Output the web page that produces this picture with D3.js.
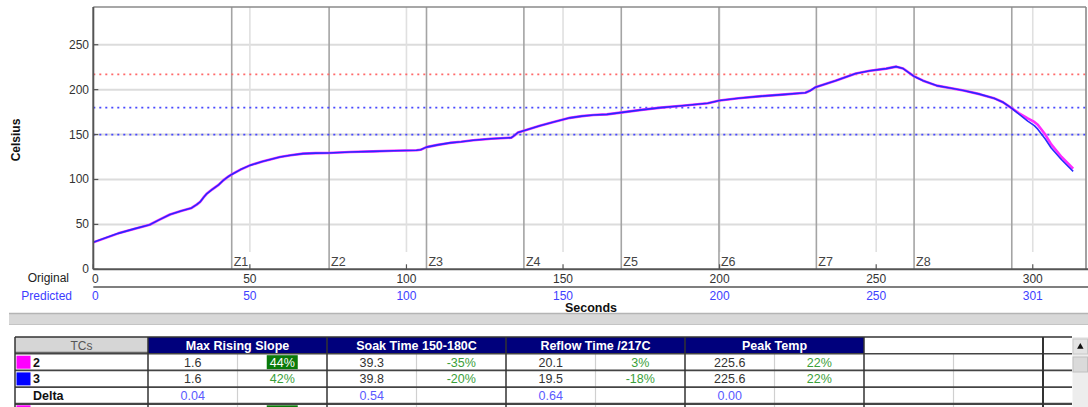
<!DOCTYPE html>
<html>
<head>
<meta charset="utf-8">
<script src="https://cdn.jsdelivr.net/npm/d3@7"></script>
<style>
  body { margin: 0; background: #fff; }
  svg { display: block; font-family: "Liberation Sans", Arial, Helvetica, sans-serif; }
</style>
</head>
<body>
<svg id="chart" width="1088" height="407"></svg>
<script>
// ---- Reflow profile data (seconds, degrees Celsius) ----
const times = [0, 4, 8, 13, 18, 21, 24.5, 28, 31.4, 33, 34.1, 35.2, 36.2, 38, 40, 41.5, 43, 44.2, 47, 50,
  54, 59.6, 63, 67, 71, 75, 82, 89.4, 96, 103.2, 104.5, 106.4, 110, 113.8, 117.5, 121.3, 127, 133.5, 134.5,
  135.6, 139, 142.6, 147, 152.2, 156, 159.7, 164, 168.3, 175, 181.2, 188, 196.2, 200, 206, 213.4, 220, 227.4,
  229, 230.6, 237, 243.5, 248, 253.2, 256.4, 258.6, 262, 265, 269.3, 274, 277.9, 283, 287.6, 290.5, 293,
  295.5, 298.4, 300.5, 301.6, 304, 305.9, 309.2, 312.9];

// TC 2 (original, magenta)
const tc2Temps = [30, 35, 40, 45, 49.6, 55, 61, 65, 68.3, 72, 75, 80, 84, 89, 94, 99, 103, 105.6, 111, 115.7,
  120, 125, 127, 128.8, 129.3, 129.5, 130.5, 131.3, 132, 132.5, 133, 136, 138.5, 140.7, 142, 143.7, 145.3, 146.5, 149,
  152.3, 156, 159.7, 164, 168.6, 170.5, 171.7, 172.5, 174.4, 177.5, 180, 182, 184.9, 188, 190.5, 192.8, 194.5, 196.5,
  199, 202.7, 210, 218, 221, 223.4, 225.6, 223.5, 215, 210, 204.5, 201.5, 199, 195, 190.5, 186, 180,
  174, 168, 164, 161, 150, 139, 125, 112];

// TC 3 (predicted, blue)
const tc3Temps = [30, 35, 40, 45, 49.6, 55, 61, 65, 68.3, 72, 75, 80, 84, 89, 94, 99, 103, 105.6, 111, 115.7,
  120, 125, 127, 128.8, 129.3, 129.5, 130.5, 131.3, 132, 132.5, 133, 136, 138.5, 140.7, 142, 143.7, 145.3, 146.5, 149,
  152.3, 156, 159.7, 164, 168.6, 170.5, 171.7, 172.5, 174.4, 177.5, 180, 182, 184.9, 188, 190.5, 192.8, 194.5, 196.5,
  199, 202.7, 210, 218, 221, 223.4, 225.6, 223.5, 215, 210, 204.5, 201.5, 199, 195, 190.5, 186, 180,
  173, 165, 160, 156, 145, 135, 122, 109];

// Oven zone boundaries (seconds)
const zoneBounds = [44.2, 75.3, 106.4, 137.5, 168.6, 199.8, 230.9, 262.1, 293.3];
const zoneNames = ["Z1", "Z2", "Z3", "Z4", "Z5", "Z6", "Z7", "Z8"];

// Axis ticks
const xTicks = [0, 50, 100, 150, 200, 250, 300];
const originalTickLabels = ["0", "50", "100", "150", "200", "250", "300"];
const predictedTickLabels = ["0", "50", "100", "150", "200", "250", "301"];
const yTicks = [0, 50, 100, 150, 200, 250];

// Process limit lines
const limitTemps = [217, 180, 150];
const limitColors = ["#ff6a6a", "#4848ff", "#4848ff"];

// ---- Statistics table ----
const metricNames = ["Max Rising Slope", "Soak Time 150-180C", "Reflow Time /217C", "Peak Temp"];
const tcNames = ["2", "3"];
const tcColors = ["#ff00ff", "#0000ff"];
const tc2Values = ["1.6", "39.3", "20.1", "225.6"];
const tc2Percents = ["44%", "-35%", "3%", "22%"];
const tc3Values = ["1.6", "39.8", "19.5", "225.6"];
const tc3Percents = ["42%", "-20%", "-18%", "22%"];
const deltaValues = ["0.04", "0.54", "0.64", "0.00"];
const highlightedCells = [[0, 0]]; // [row, metric] drawn on a green badge

const svg = d3.select("#chart");

// ---- Plot geometry ----
const plot = { left: 93.3, right: 1086, top: 7, bottom: 269.3 };
const x = d3.scaleLinear().domain([0, 317]).range([plot.left, plot.right]);
const y = d3.scaleLinear().domain([0, 292]).range([plot.bottom, plot.top]);

const g = svg.append("g");

// Horizontal gridlines
g.selectAll("line.hgrid").data(yTicks.filter(d => d > 0)).join("line")
  .attr("x1", plot.left).attr("x2", plot.right)
  .attr("y1", d => y(d)).attr("y2", d => y(d))
  .attr("stroke", "#dcdcdc").attr("stroke-width", 2);

// Vertical gridlines (stop short of zone labels)
g.selectAll("line.vgrid").data(xTicks.filter(d => d > 0)).join("line")
  .attr("x1", d => x(d)).attr("x2", d => x(d))
  .attr("y1", plot.top).attr("y2", 252)
  .attr("stroke", "#e0e0e0").attr("stroke-width", 1.6);

// Zone boundaries
g.selectAll("line.zone").data(zoneBounds).join("line")
  .attr("x1", d => x(d)).attr("x2", d => x(d))
  .attr("y1", plot.top).attr("y2", plot.bottom)
  .attr("stroke", "#a4a4a4").attr("stroke-width", 1.6);

g.selectAll("text.zone").data(zoneNames).join("text")
  .attr("x", (d, i) => x(zoneBounds[i]) + 2)
  .attr("y", 265.5)
  .attr("font-size", 12.5).attr("fill", "#444")
  .text(d => d);

// Limit lines (dotted)
g.selectAll("line.limit").data(limitTemps).join("line")
  .attr("x1", plot.left).attr("x2", plot.right)
  .attr("y1", d => y(d)).attr("y2", d => y(d))
  .attr("stroke", (d, i) => limitColors[i]).attr("stroke-width", 1.8)
  .attr("stroke-dasharray", "2,4");

// Temperature curves
const line = d3.line().x(d => x(d[0])).y(d => y(d[1]));
g.append("path").datum(times.map((t, i) => [t, tc2Temps[i]]))
  .attr("d", line).attr("fill", "none")
  .attr("stroke", "#ff2cff").attr("stroke-width", 2.6).attr("stroke-linejoin", "round");
g.append("path").datum(times.map((t, i) => [t, tc3Temps[i]]))
  .attr("d", line).attr("fill", "none")
  .attr("stroke", "#2a2aff").attr("stroke-width", 1.6)
  .attr("stroke-linejoin", "round");

// Frame and axes
g.append("line").attr("x1", plot.left).attr("x2", plot.right).attr("y1", plot.top).attr("y2", plot.top)
  .attr("stroke", "#8a8a8a").attr("stroke-width", 1.6);
g.append("line").attr("x1", plot.right).attr("x2", plot.right).attr("y1", plot.top).attr("y2", plot.bottom)
  .attr("stroke", "#8a8a8a").attr("stroke-width", 1.6);
g.append("line").attr("x1", plot.left).attr("x2", plot.left).attr("y1", plot.top).attr("y2", plot.bottom)
  .attr("stroke", "#555").attr("stroke-width", 2);
g.append("line").attr("x1", plot.left).attr("x2", 1088).attr("y1", plot.bottom).attr("y2", plot.bottom)
  .attr("stroke", "#555").attr("stroke-width", 2);
g.append("line").attr("x1", plot.left).attr("x2", 1088).attr("y1", 287).attr("y2", 287)
  .attr("stroke", "#555").attr("stroke-width", 1.4);

// Inward ticks
g.selectAll("line.ytick").data(yTicks).join("line")
  .attr("x1", plot.left).attr("x2", plot.left + 5)
  .attr("y1", d => y(d)).attr("y2", d => y(d))
  .attr("stroke", "#555").attr("stroke-width", 1.2);
g.selectAll("line.xtick").data(xTicks).join("line")
  .attr("x1", d => x(d)).attr("x2", d => x(d))
  .attr("y1", plot.bottom - 5).attr("y2", plot.bottom)
  .attr("stroke", "#555").attr("stroke-width", 1.2);

// Tick labels
g.selectAll("text.ylab").data(yTicks).join("text")
  .attr("x", 89).attr("y", d => y(d) + 4)
  .attr("text-anchor", "end").attr("font-size", 12).attr("fill", "#333")
  .text(d => d);
g.selectAll("text.xlab").data(xTicks).join("text")
  .attr("x", d => x(d) + (d === 0 ? 2 : 0)).attr("y", 283)
  .attr("text-anchor", "middle").attr("font-size", 12).attr("fill", "#333")
  .text((d, i) => originalTickLabels[i]);
g.selectAll("text.plab").data(xTicks).join("text")
  .attr("x", d => x(d) + (d === 0 ? 2 : 0)).attr("y", 300)
  .attr("text-anchor", "middle").attr("font-size", 12).attr("fill", "#4040ff")
  .text((d, i) => predictedTickLabels[i]);

g.append("text").attr("x", 69).attr("y", 282).attr("text-anchor", "end")
  .attr("font-size", 12).attr("fill", "#222").text("Original");
g.append("text").attr("x", 72).attr("y", 300).attr("text-anchor", "end")
  .attr("font-size", 12).attr("fill", "#3c3cff").text("Predicted");

g.append("text").attr("x", 591).attr("y", 312).attr("text-anchor", "middle")
  .attr("font-size", 12.5).attr("font-weight", "bold").attr("fill", "#111").text("Seconds");
g.append("text").attr("transform", "translate(20,140) rotate(-90)")
  .attr("text-anchor", "middle").attr("font-size", 12).attr("font-weight", "bold")
  .attr("fill", "#111").text("Celsius");

// Splitter bar between chart and table
svg.append("rect").attr("x", 9).attr("y", 313).attr("width", 1079).attr("height", 12).attr("fill", "#d8d8d8");
svg.append("line").attr("x1", 9).attr("x2", 1088).attr("y1", 313.5).attr("y2", 313.5).attr("stroke", "#b4b4b4").attr("stroke-width", 1.5);
svg.append("line").attr("x1", 9).attr("x2", 1088).attr("y1", 324.5).attr("y2", 324.5).attr("stroke", "#c4c4c4").attr("stroke-width", 1);

// ---- Table ----
const t = svg.append("g");
const tableLeft = 15, tcsRight = 148, tableTop = 337, rowH = 16.7;
const colX = d3.scaleBand().domain(metricNames.concat(["", " "])).range([tcsRight, tcsRight + 179 * 6]);
const rowKeys = ["header", "2", "3", "Delta", "next"];
const rowY = d3.scaleBand().domain(rowKeys).range([tableTop, tableTop + rowH * rowKeys.length]);
const bw = colX.bandwidth();
const narrowRight = 1072;

// Header cells
t.append("rect").attr("x", tableLeft).attr("y", tableTop).attr("width", tcsRight - tableLeft).attr("height", rowH)
  .attr("fill", "#d6d6d6");
t.append("line").attr("x1", tableLeft).attr("x2", tcsRight).attr("y1", tableTop + rowH - 1).attr("y2", tableTop + rowH - 1)
  .attr("stroke", "#666").attr("stroke-width", 2);
t.append("text").attr("x", (tableLeft + tcsRight) / 2).attr("y", tableTop + 12.5).attr("text-anchor", "middle")
  .attr("font-size", 12).attr("fill", "#555").text("TCs");

t.selectAll("rect.head").data(metricNames).join("rect")
  .attr("x", d => colX(d)).attr("y", tableTop).attr("width", bw).attr("height", rowH)
  .attr("fill", "#00007c");
t.selectAll("text.head").data(metricNames).join("text")
  .attr("x", d => colX(d) + bw / 2).attr("y", tableTop + 12.5).attr("text-anchor", "middle")
  .attr("font-size", 12.5).attr("font-weight", "bold").attr("fill", "#fff")
  .text(d => d);

// Body rows
const bodyRows = [
  { key: "2", values: tc2Values, pct: tc2Percents, color: tcColors[0], label: tcNames[0] },
  { key: "3", values: tc3Values, pct: tc3Percents, color: tcColors[1], label: tcNames[1] }
];
bodyRows.forEach((row, ri) => {
  const ry = rowY(row.key);
  t.append("rect").attr("x", tableLeft + 1.5).attr("y", ry + 2).attr("width", 14).attr("height", 13).attr("fill", row.color);
  t.append("text").attr("x", tableLeft + 18).attr("y", ry + 12.8).attr("font-size", 12.5).attr("font-weight", "bold")
    .attr("fill", "#111").text(row.label);
  metricNames.forEach((m, mi) => {
    t.append("text").attr("x", colX(m) + bw / 4).attr("y", ry + 12.8).attr("text-anchor", "middle")
      .attr("font-size", 12.5).attr("fill", "#333").text(row.values[mi]);
    const hl = highlightedCells.some(c => c[0] === ri && c[1] === mi);
    if (hl) {
      t.append("rect").attr("x", colX(m) + bw * 0.75 - 15.5).attr("y", ry + 1.5).attr("width", 31).attr("height", 14)
        .attr("fill", "#0a7a0a");
    }
    t.append("text").attr("x", colX(m) + bw * 0.75).attr("y", ry + 12.8).attr("text-anchor", "middle")
      .attr("font-size", 12.5).attr("fill", hl ? "#fff" : "#3aa03a").text(row.pct[mi]);
  });
});

// Delta row
const dy = rowY("Delta");
t.append("text").attr("x", tableLeft + 18).attr("y", dy + 12.8).attr("font-size", 12.5).attr("font-weight", "bold")
  .attr("fill", "#111").text("Delta");
t.selectAll("text.delta").data(deltaValues).join("text")
  .attr("x", (d, i) => colX(metricNames[i]) + bw / 4).attr("y", dy + 12.8).attr("text-anchor", "middle")
  .attr("font-size", 12.5).attr("fill", "#5a5aff").text(d => d);

// Next row (partially visible)
const ny = rowY("next");
t.append("rect").attr("x", tableLeft + 1.5).attr("y", ny + 1.5).attr("width", 14).attr("height", 13).attr("fill", tcColors[0]);
t.append("rect").attr("x", colX(metricNames[0]) + bw * 0.75 - 15.5).attr("y", ny + 1.5).attr("width", 31).attr("height", 14)
  .attr("fill", "#0a7a0a");

// Sub-column dividers
const subDiv = metricNames.concat([""]);
t.selectAll("line.sub").data(subDiv).join("line")
  .attr("x1", d => colX(d) + bw / 2).attr("x2", d => colX(d) + bw / 2)
  .attr("y1", tableTop + rowH).attr("y2", 407)
  .attr("stroke", "#d0d0d0").attr("stroke-width", 1.2);

// Row rules
t.selectAll("line.row").data(rowKeys).join("line")
  .attr("x1", tableLeft).attr("x2", narrowRight)
  .attr("y1", d => rowY(d)).attr("y2", d => rowY(d))
  .attr("stroke", (d, i) => i === 0 ? "#333" : "#444")
  .attr("stroke-width", (d, i) => i === 4 ? 2.2 : 1.6);

// Column rules
const colRules = [tableLeft, tcsRight].concat(metricNames.concat([""]).map(d => colX(d) + bw));
t.selectAll("line.col").data(colRules).join("line")
  .attr("x1", d => d).attr("x2", d => d)
  .attr("y1", tableTop).attr("y2", 407)
  .attr("stroke", "#333").attr("stroke-width", (d, i) => i === colRules.length - 1 ? 2 : 1.5);

// Scrollbar
const sb = svg.append("g");
sb.append("rect").attr("x", narrowRight + 0.5).attr("y", tableTop).attr("width", 1088 - narrowRight).attr("height", 70)
  .attr("fill", "#ededed");
sb.append("rect").attr("x", narrowRight + 1).attr("y", tableTop + 2).attr("width", 14.5).attr("height", 15)
  .attr("fill", "#e4e4e4").attr("stroke", "#c8c8c8");
sb.append("path").attr("d", d3.symbol(d3.symbolTriangle, 18)()).attr("transform", `translate(${narrowRight + 8.3},${tableTop + 9.8})`)
  .attr("fill", "#111");
sb.append("rect").attr("x", narrowRight + 1).attr("y", tableTop + 20).attr("width", 14.5).attr("height", 15)
  .attr("fill", "#dadada").attr("stroke", "#c0c0c0");
</script>
</body>
</html>
